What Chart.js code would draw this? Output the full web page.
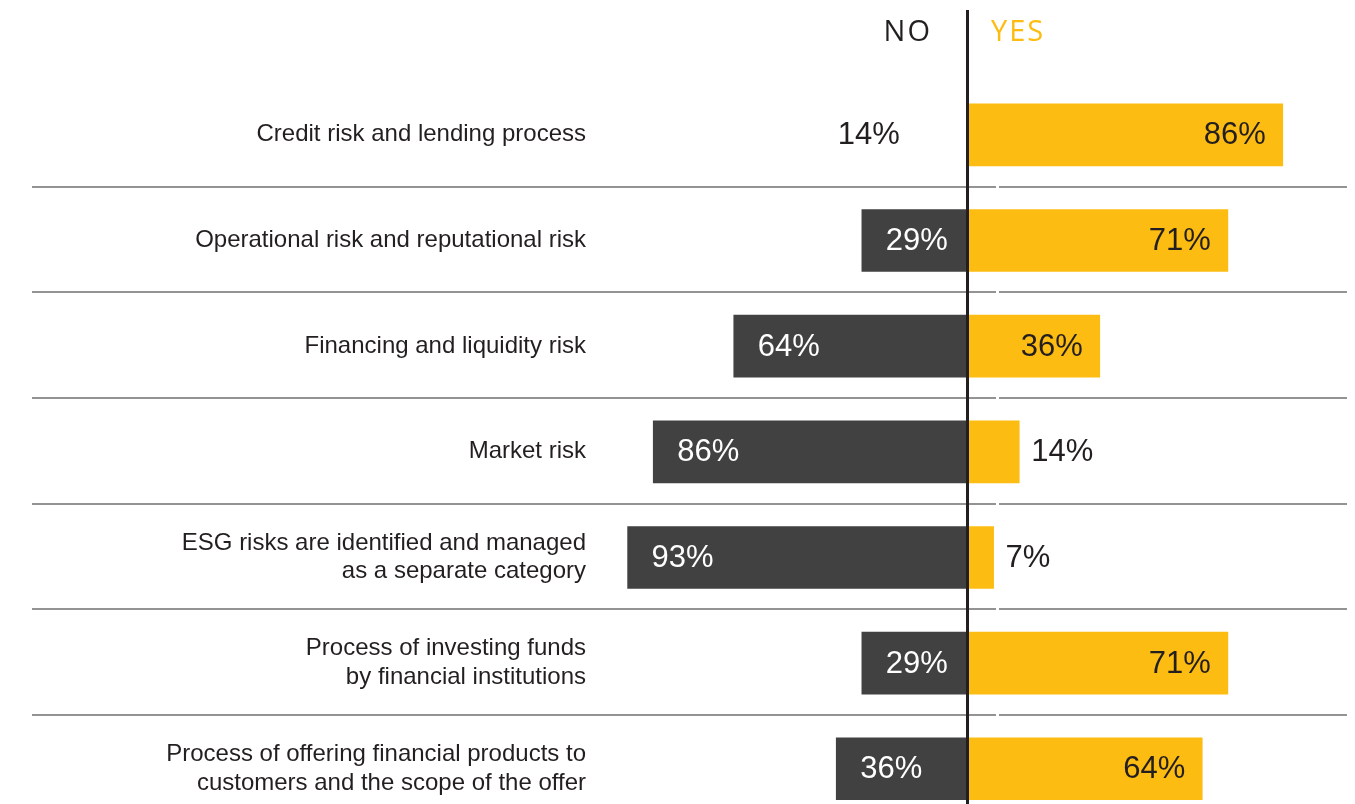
<!DOCTYPE html>
<html>
<head>
<meta charset="utf-8" />
<title>Risk areas - NO / YES</title>
<script src="https://cdn.jsdelivr.net/npm/chart.js@4.4.0/dist/chart.umd.min.js"></script>
<style>
  html, body { margin: 0; padding: 0; background: #fff; overflow: hidden; }
  canvas { display: block; }
</style>
</head>
<body>
<canvas id="myChart" width="1355" height="852"></canvas>
<script>
// data
const categories = [
  'Credit risk and lending process',
  'Operational risk and reputational risk',
  'Financing and liquidity risk',
  'Market risk',
  ['ESG risks are identified and managed', 'as a separate category'],
  ['Process of investing funds', 'by financial institutions'],
  ['Process of offering financial products to', 'customers and the scope of the offer']
];
const noValues  = [14, 29, 64, 86, 93, 29, 36];
const yesValues = [86, 71, 36, 14, 7, 71, 64];
const headerLabels = ['NO', 'YES'];

const DARK = '#414141';
const YELLOW = '#FDBC11';
const TEXT = '#231f20';

// row separators, centre line, header
const framePlugin = {
  id: 'frame',
  afterDatasetsDraw(chart) {
    const ctx = chart.ctx;
    const x = chart.scales.x, y = chart.scales.y;
    const zero = x.getPixelForValue(0);
    ctx.save();
    ctx.strokeStyle = '#939393';
    ctx.lineWidth = 2;
    for (let i = 0; i < categories.length - 1; i++) {
      const yy = Math.round((y.getPixelForValue(i) + y.getPixelForValue(i + 1)) / 2) - 1;
      ctx.beginPath();
      ctx.moveTo(32, yy); ctx.lineTo(zero + 28, yy);
      ctx.moveTo(zero + 31, yy); ctx.lineTo(1347, yy);
      ctx.stroke();
    }
    ctx.strokeStyle = TEXT;
    ctx.lineWidth = 3;
    ctx.beginPath();
    ctx.moveTo(zero - 0.5, 10);
    ctx.lineTo(zero - 0.5, chart.height);
    ctx.stroke();

    ctx.font = '29px "Open Sans"';
    ctx.letterSpacing = '2px';
    ctx.textBaseline = 'alphabetic';
    ctx.textAlign = 'right';
    ctx.fillStyle = TEXT;
    ctx.fillText(headerLabels[0], zero - 36, 41);
    ctx.textAlign = 'left';
    ctx.fillStyle = YELLOW;
    ctx.fillText(headerLabels[1], zero + 23, 41);
    ctx.restore();
  }
};

// percentage labels
const valuePlugin = {
  id: 'values',
  afterDatasetsDraw(chart) {
    const ctx = chart.ctx;
    ctx.save();
    ctx.font = '31px "Liberation Sans", Arial, sans-serif';
    ctx.textBaseline = 'middle';
    chart.getDatasetMeta(0).data.forEach((bar, i) => {
      const v = noValues[i];
      if (v > 20) {
        ctx.textAlign = 'left'; ctx.fillStyle = '#fff';
        ctx.fillText(v + '%', bar.x + 24, bar.y + 1);
      } else {
        ctx.textAlign = 'right'; ctx.fillStyle = TEXT;
        ctx.fillText(v + '%', bar.x - 17, bar.y + 1);
      }
    });
    chart.getDatasetMeta(1).data.forEach((bar, i) => {
      const v = yesValues[i];
      ctx.fillStyle = TEXT;
      if (v > 20) {
        ctx.textAlign = 'right';
        ctx.fillText(v + '%', bar.x - 17, bar.y + 1);
      } else {
        ctx.textAlign = 'left';
        ctx.fillText(v + '%', bar.x + 12, bar.y + 1);
      }
    });
    ctx.restore();
  }
};

const ctx = document.getElementById('myChart').getContext('2d');
new Chart(ctx, {
  type: 'bar',
  data: {
    labels: categories,
    datasets: [{
      label: 'NO',
      data: noValues.map(v => -v),
      // first NO bar is not drawn in the original
      backgroundColor: noValues.map((v, i) => i === 0 ? 'rgba(0,0,0,0)' : DARK),
      barThickness: 62
    }, {
      label: 'YES',
      data: yesValues,
      backgroundColor: YELLOW,
      barThickness: 62
    }]
  },
  options: {
    indexAxis: 'y',
    responsive: false,
    animation: false,
    layout: { padding: { top: 82, bottom: 29, right: 21, left: 0 } },
    plugins: { legend: { display: false }, tooltip: { enabled: false } },
    scales: {
      x: { stacked: true, min: -100, max: 100, display: false },
      y: {
        stacked: true,
        grid: { display: false, drawTicks: false },
        border: { display: false },
        ticks: {
          padding: 16,
          color: TEXT,
          font: { family: '"Liberation Sans", Arial, sans-serif', size: 24, lineHeight: 1.2 }
        },
        afterFit(scale) { scale.width = 602; }
      }
    }
  },
  plugins: [framePlugin, valuePlugin]
});
</script>
</body>
</html>
